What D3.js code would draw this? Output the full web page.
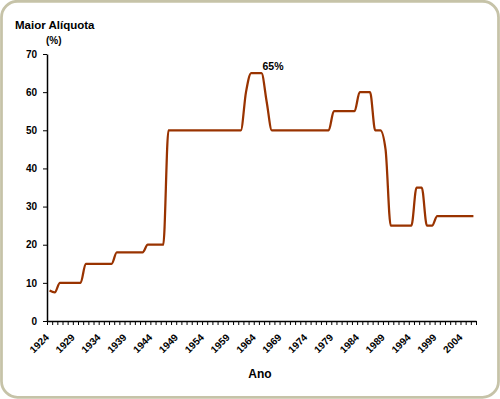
<!DOCTYPE html>
<html>
<head>
<meta charset="utf-8">
<script src="https://cdn.jsdelivr.net/npm/d3@7"></script>
<style>
  body { margin: 0; background: #fff; }
  svg { display: block; font-family: "Liberation Sans", Arial, sans-serif; }
  .axis text { font-weight: bold; font-size: 10px; fill: #000; }
  .axis path, .axis line { stroke: #000; }
</style>
</head>
<body>
<div id="chart"></div>
<script>
// categories: one per year
const years = d3.range(1924, 2007);

// top income tax rate (%) per year
const rates = [
  8, 7.5,
  10, 10, 10, 10, 10,
  15, 15, 15, 15, 15, 15,
  18, 18, 18, 18, 18, 18,
  20, 20, 20, 20,
  50, 50, 50, 50, 50, 50, 50, 50, 50, 50, 50, 50, 50, 50, 50,
  60,
  65, 65, 65,
  57.5,
  50, 50, 50, 50, 50, 50, 50, 50, 50, 50, 50, 50,
  55, 55, 55, 55, 55,
  60, 60, 60,
  50, 50,
  45,
  25, 25, 25, 25, 25,
  35, 35,
  25, 25,
  27.5, 27.5, 27.5, 27.5, 27.5, 27.5, 27.5, 27.5
];

const yTicks = [0, 10, 20, 30, 40, 50, 60, 70];
const peakYear = 1965;
const peakLabel = "65%";

const width = 500, height = 399;
const plot = {left: 47, right: 476, top: 54, bottom: 321};

const data = years.map((yr, i) => ({year: yr, rate: rates[i]}));

const svg = d3.select("#chart").append("svg")
  .attr("width", width)
  .attr("height", height);

// rounded frame
svg.append("rect")
  .attr("x", 1.5).attr("y", 1.25)
  .attr("width", 497).attr("height", 396)
  .attr("rx", 16).attr("ry", 16)
  .attr("fill", "#fff")
  .attr("stroke", "#c6c3a8")
  .attr("stroke-width", 2.75);

const x = d3.scaleBand()
  .domain(years)
  .range([plot.left, plot.right]);

const bw = x.bandwidth();

// edges of the categories, for tick marks between them
const xEdge = d3.scaleLinear()
  .domain([0, years.length])
  .range([plot.left, plot.right]);

const y = d3.scaleLinear()
  .domain([0, 70])
  .range([plot.bottom, plot.top]);

// y axis
const yAxis = svg.append("g")
  .classed("axis", true)
  .attr("transform", `translate(${plot.left},0)`)
  .call(d3.axisLeft(y).tickValues(yTicks).tickSize(4).tickPadding(6).tickSizeOuter(0));
yAxis.select(".domain").attr("stroke-width", 1.5);

// x axis tick marks
const xTicks = svg.append("g")
  .classed("axis", true)
  .attr("transform", `translate(0,${plot.bottom})`)
  .call(d3.axisBottom(xEdge).tickValues(d3.range(0, years.length + 1)).tickSize(4).tickSizeOuter(0).tickFormat(""));
xTicks.select(".domain").attr("stroke-width", 1.5);

// x axis labels every 5 years
svg.append("g")
  .classed("axis", true)
  .attr("transform", `translate(0,${plot.bottom})`)
  .call(d3.axisBottom(x).tickValues(years.filter((d, i) => i % 5 === 0)).tickSize(0))
  .call(g => g.select(".domain").remove())
  .selectAll("text")
    .attr("x", 0)
    .attr("y", 0)
    .attr("dy", 0)
    .attr("text-anchor", "end")
    .attr("transform", "translate(0,17) rotate(-45)");

// titles
svg.append("text")
  .attr("x", 15).attr("y", 29)
  .style("font-weight", "bold").style("font-size", "11.5px")
  .text("Maior Alíquota");

svg.append("text")
  .attr("x", 46).attr("y", 44)
  .style("font-weight", "bold").style("font-size", "10px")
  .text("(%)");

svg.append("text")
  .attr("x", 260).attr("y", 378)
  .attr("text-anchor", "middle")
  .style("font-weight", "bold").style("font-size", "12px")
  .text("Ano");

// the line, smoothed
const line = d3.line()
  .x(d => x(d.year) + bw / 2)
  .y(d => y(d.rate))
  .curve(d3.curveMonotoneX);

svg.append("path")
  .datum(data)
  .attr("fill", "none")
  .attr("stroke", "#993300")
  .attr("stroke-width", 2.25)
  .attr("stroke-linejoin", "round")
  .attr("d", line);

// peak label
svg.append("text")
  .attr("x", x(peakYear) + bw / 2 + 1)
  .attr("y", y(65) - 3)
  .style("font-weight", "bold").style("font-size", "10.5px")
  .text(peakLabel);
</script>
</body>
</html>
